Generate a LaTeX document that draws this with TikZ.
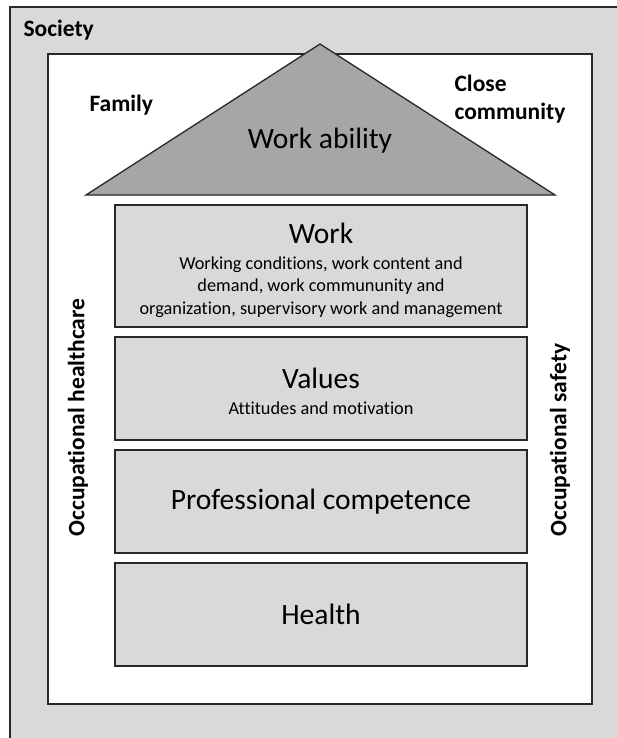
\documentclass[tikz,border=0pt]{standalone}
\usepackage{fontspec}
\setmainfont{Carlito}[Ligatures=NoCommon]
\usetikzlibrary{positioning}
\definecolor{layergray}{RGB}{217,217,217}
\definecolor{roofgray}{RGB}{166,166,166}
\definecolor{edgegray}{RGB}{40,40,40}

\begin{document}
\begin{tikzpicture}[x=1pt, y=-1pt,
  layer/.style={draw=edgegray, line width=1.4pt, fill=layergray, minimum width=412pt, inner sep=0pt},
  big/.style={font=\fontsize{29.5}{32}\selectfont},
  small/.style={font=\fontsize{18.3}{22.5}\selectfont, align=center},
  tag/.style={font=\bfseries\fontsize{23.5}{28}\selectfont, align=left}]
\useasboundingbox (0,0) rectangle (617,738);
% society and the white frame
\draw[edgegray, line width=1.3pt, fill=layergray] (10,7) rectangle (625,745);
\draw[edgegray, line width=1.3pt, fill=white] (48,54) rectangle (592,704);
\node[tag, anchor=west] (society) at (20,30) {Society};
\node[tag, anchor=west] (family) at (86,105) {Family};
\node[tag, anchor=west] (close) at (451,99) {Close\\community};
% roof
\draw[edgegray, line width=1.3pt, fill=roofgray] (86,195) -- (320,44) -- (555,195) -- cycle;
\node[big] (ability) at (320,141) {Work ability};
% layers of the house
\node[layer, minimum height=122pt] (work) at (321,266) {};
\node[layer, minimum height=103pt, below=8.6pt of work] (values) {};
\node[layer, minimum height=103pt, below=8.6pt of values] (competence) {};
\node[layer, minimum height=103pt, below=8.6pt of competence] (health) {};
\node[big] (worktitle) at (321,233) {Work};
\node[small] (worktext) at (321,287) {Working conditions, work content and\\demand, work commununity and\\organization, supervisory work and management};
\node[big] (valuestitle) at (321,378) {Values};
\node[small] (valuestext) at (321,408) {Attitudes and motivation};
\node[big] at (competence) {Professional competence};
\node[big] at (health) {Health};
% side walls
\node[tag, rotate=90, anchor=west] (healthcare) at (78,540) {Occupational healthcare};
\node[tag, rotate=90, anchor=west] (safety) at (560,540) {Occupational safety};
\end{tikzpicture}
\end{document}
